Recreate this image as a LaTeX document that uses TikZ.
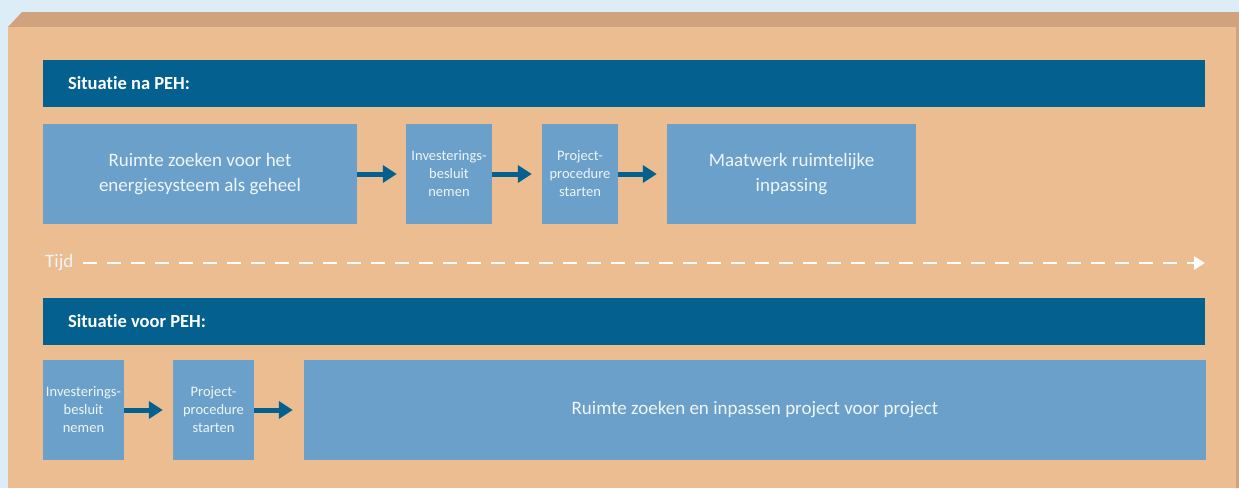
\documentclass[tikz,border=0pt]{standalone}
\usepackage{fontspec}
\setmainfont{Carlito}[Ligatures=NoCommon]
\usepackage{tikz}
\usetikzlibrary{arrows.meta}
\definecolor{pehsky}{RGB}{221,237,248}
\definecolor{pehtop}{RGB}{208,163,126}
\definecolor{pehface}{RGB}{235,189,145}
\definecolor{pehbar}{RGB}{3,96,143}
\definecolor{pehstep}{RGB}{106,160,201}
\definecolor{pehtext}{RGB}{240,245,250}
\tikzstyle{pehheader}=[rectangle, fill=pehbar, text=white, minimum width=1162pt, minimum height=47pt, inner sep=0pt]
\tikzstyle{pehstep}=[rectangle, fill=pehstep, text=pehtext, minimum height=100pt, inner sep=0pt, align=center]
\tikzstyle{pehsmall}=[font=\fontsize{14.5}{18}\selectfont]
\tikzstyle{pehlarge}=[font=\fontsize{19}{24.5}\selectfont]
\tikzstyle{pehflow}=[draw=pehbar, line width=5pt, -{Triangle[length=14pt,width=17pt]}]
\tikzstyle{pehtime}=[draw=white, line width=2.5pt, dash pattern=on 14pt off 10pt, -{Triangle[length=11pt,width=13pt]}]
\newcommand{\pehheader}[3]{
	\node[pehheader] (#1) at (#2) {};
	\node[anchor=west, inner sep=0pt, text=white, font=\fontsize{18.5}{20}\selectfont\bfseries] at ([xshift=25pt]#1.west) {#3};}
\newcommand{\pehsmallstep}[4]{
	\node[pehstep, pehsmall, minimum width=#3] (#1) at (#2) {#4};}
\newcommand{\pehlargestep}[4]{
	\node[pehstep, pehlarge, minimum width=#3] (#1) at (#2) {#4};}

\begin{document}
\begin{tikzpicture}[x=1pt, y=-1pt]
	\fill[pehsky] (0,0) rectangle (1239,488);
	\useasboundingbox (0,0) rectangle (1239,488);
	\fill[pehtop] (8,27) -- (22,12) -- (1239,12) -- (1239,488) -- (1236,488) -- (1236,27) -- cycle;
	\fill[pehface] (8,27) rectangle (1236,488);
	
	\pehheader{na}{624,83.5}{Situatie na PEH:}
	\pehlargestep{nazoeken}{200,174}{314pt}{Ruimte zoeken voor het\\energiesysteem als geheel}
	\pehsmallstep{nabesluit}{449,174}{86pt}{Investerings-\\besluit\\nemen}
	\pehsmallstep{naprocedure}{580,174}{76pt}{Project-\\procedure\\starten}
	\pehlargestep{nainpassing}{791.5,174}{249pt}{Maatwerk ruimtelijke\\inpassing}
	
	\node[anchor=west, inner sep=0pt, text=pehtext, font=\fontsize{19}{20}\selectfont] (tijd) at (45,263) {Tijd};
	\coordinate (tijdeind) at (1205,263);
	
	\pehheader{voor}{624,321.5}{Situatie voor PEH:}
	\pehsmallstep{voorbesluit}{83.5,410}{81pt}{Investerings-\\besluit\\nemen}
	\pehsmallstep{voorprocedure}{213.5,410}{81pt}{Project-\\procedure\\starten}
	\pehlargestep{voorzoeken}{755,410}{902pt}{Ruimte zoeken en inpassen project voor project}
	
	\path (nazoeken) edge[pehflow, shorten >=9pt] (nabesluit);
	\path (nabesluit) edge[pehflow, shorten >=10pt] (naprocedure);
	\path (naprocedure) edge[pehflow, shorten >=10pt] (nainpassing);
	\path (voorbesluit) edge[pehflow, shorten >=10pt] (voorprocedure);
	\path (voorprocedure) edge[pehflow, shorten >=11pt] (voorzoeken);
	\path (tijd) edge[pehtime, shorten <=9pt] (tijdeind);
\end{tikzpicture}
\end{document}
